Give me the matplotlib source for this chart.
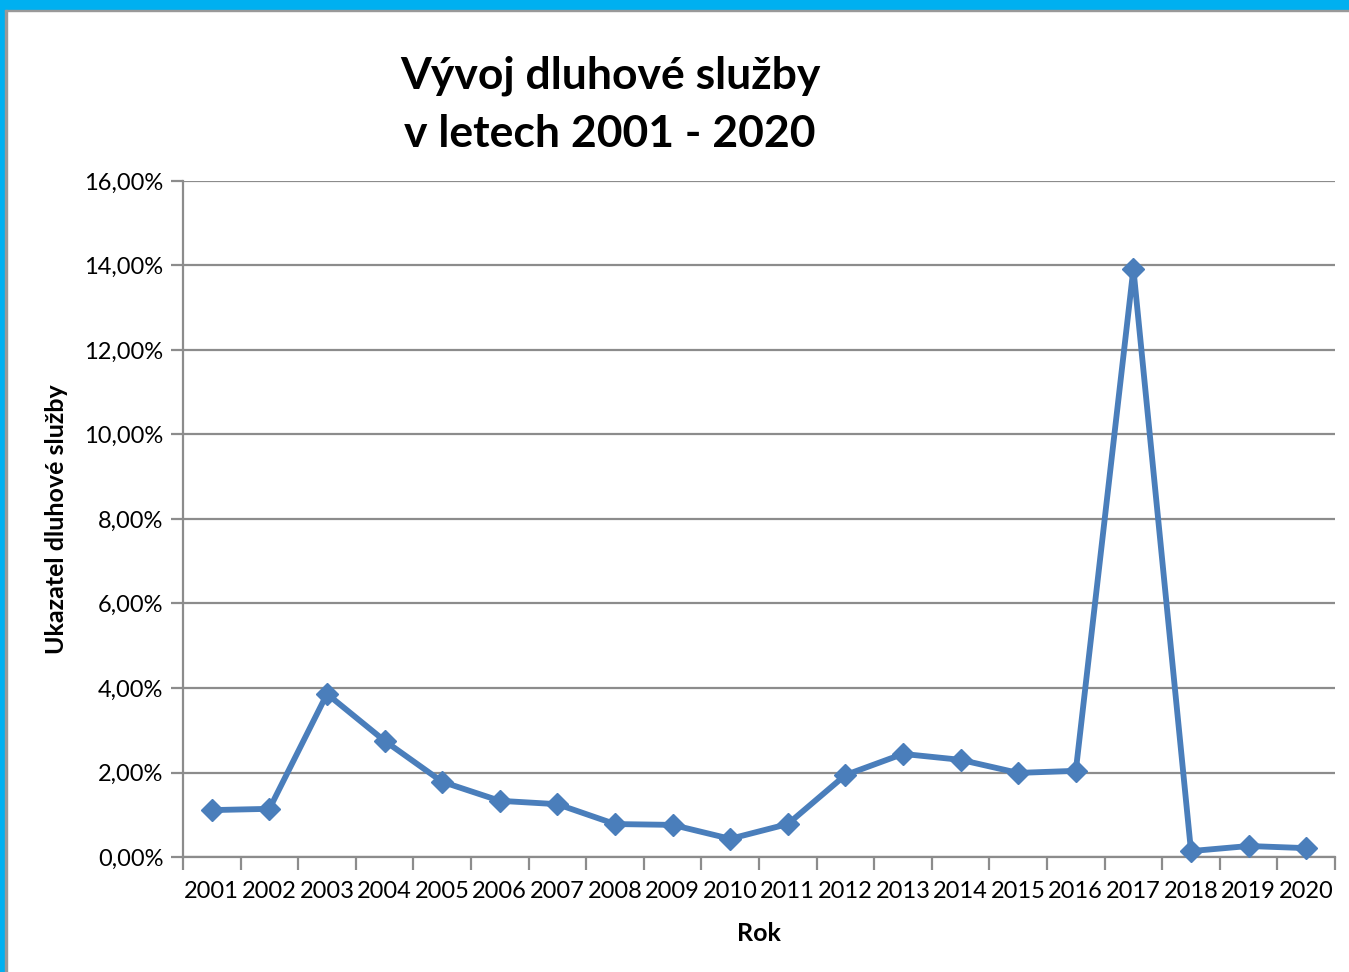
import matplotlib
matplotlib.use("Agg")
import matplotlib.pyplot as plt
from matplotlib.patches import Rectangle
from matplotlib.ticker import FixedLocator, FuncFormatter

plt.rcParams["font.family"] = ["Lato", "DejaVu Sans"]

years = [str(y) for y in range(2001, 2021)]
values = [1.11, 1.14, 3.86, 2.75, 1.78, 1.33, 1.25, 0.78, 0.76, 0.43,
          0.78, 1.94, 2.44, 2.30, 1.99, 2.04, 13.92, 0.14, 0.26, 0.21]
y_ticks = [0, 2, 4, 6, 8, 10, 12, 14, 16]

W, H = 1349, 972
fig = plt.figure(figsize=(W / 100, H / 100), dpi=100)

# frame: cyan border top and left, thin gray line inside
fig.patches.append(Rectangle((0, 1 - 10 / H), 1, 10 / H, transform=fig.transFigure,
                             color="#00B0F0", zorder=0))
fig.patches.append(Rectangle((0, 0), 5 / W, 1, transform=fig.transFigure,
                             color="#00B0F0", zorder=0))
fig.patches.append(Rectangle((5 / W, 0), 1.5 / W, 1 - 10 / H, transform=fig.transFigure,
                             color="#999999", zorder=0))
fig.patches.append(Rectangle((5 / W, 1 - 11.5 / H), 1, 1.5 / H, transform=fig.transFigure,
                             color="#999999", zorder=0))

ax = fig.add_axes([183 / W, 1 - 857 / H, (1335 - 183) / W, (857 - 181) / H])

x = list(range(len(years)))
ax.plot(x, values, color="#4A7EBB", linewidth=4.2, marker="D", markersize=11,
        clip_on=False, zorder=3)

ax.set_xlim(-0.5, len(years) - 0.5)
ax.set_ylim(0, 16)

ax.yaxis.set_major_locator(FixedLocator(y_ticks))
ax.yaxis.set_major_formatter(FuncFormatter(lambda v, p: f"{v:.2f}%".replace(".", ",")))
ax.grid(axis="y", color="#8C8C8C", linewidth=1.6)
ax.set_axisbelow(True)

# boundary ticks without labels, labels at category centres
ax.xaxis.set_major_locator(FixedLocator([i - 0.5 for i in range(len(years) + 1)]))
ax.xaxis.set_major_formatter(FuncFormatter(lambda v, p: ""))
ax.xaxis.set_minor_locator(FixedLocator(x))
ax.set_xticklabels(years, minor=True)
ax.tick_params(axis="x", which="minor", length=0, pad=17, labelsize=17)
ax.tick_params(axis="x", which="major", length=9, width=1.6, color="#8C8C8C")
ax.tick_params(axis="y", length=9, width=1.6, color="#8C8C8C", labelsize=17, pad=5)

for side in ("top", "right"):
    ax.spines[side].set_visible(False)
for side in ("left", "bottom"):
    ax.spines[side].set_color("#8C8C8C")
    ax.spines[side].set_linewidth(1.6)

fig.text(610 / W, 1 - 105 / H, "Vývoj dluhové služby\nv letech 2001 - 2020",
         ha="center", va="center", fontsize=32, fontweight="bold", linespacing=1.55)
fig.text(57 / W, 1 - 519 / H, "Ukazatel dluhové služby", rotation=90,
         ha="center", va="center", fontsize=18, fontweight="bold")
fig.text(759 / W, 1 - 933 / H, "Rok", ha="center", va="center",
         fontsize=18, fontweight="bold")

fig.savefig("out.png", dpi=100)
